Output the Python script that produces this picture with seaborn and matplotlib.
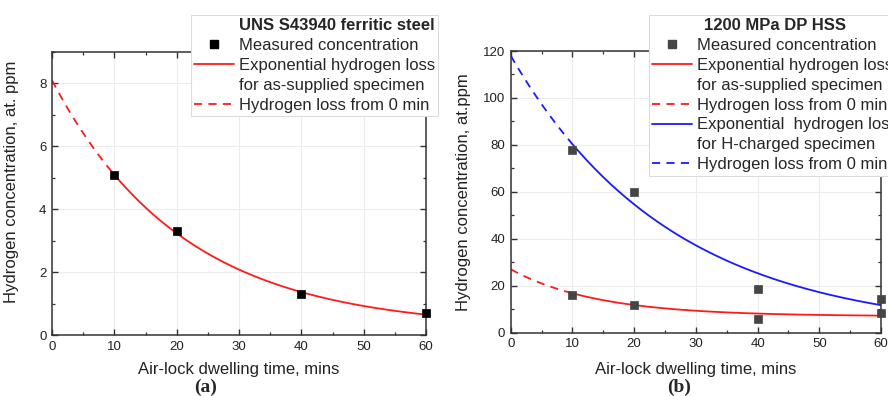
import numpy as np
import matplotlib
matplotlib.use("Agg")
import matplotlib.pyplot as plt
from matplotlib.lines import Line2D
from matplotlib.ticker import MultipleLocator
import seaborn as sns

# ---- (a) UNS S43940 ferritic steel ----
a_time = [10, 20, 40, 60]
a_conc = [5.1, 3.3, 1.3, 0.7]
# exponential loss fit: C(t) = c_inf + amp * exp(-t / tau)
a_fit = {"c_inf": 0.2, "amp": 7.9, "tau": 20.9}

# ---- (b) 1200 MPa DP HSS ----
b_time = [10, 20, 40, 60, 10, 20, 40, 60]
b_conc = [16.0, 12.0, 6.0, 8.5, 78.0, 60.0, 18.5, 14.3]
b_fit_supplied = {"c_inf": 7.0, "amp": 20.0, "tau": 14.0}
b_fit_charged = {"c_inf": 0.0, "amp": 118.0, "tau": 26.0}

x_ticks = [0, 10, 20, 30, 40, 50, 60]
a_yticks = [0, 2, 4, 6, 8]
b_yticks = [0, 20, 40, 60, 80, 100, 120]

t_first = 10  # first measurement; fit is extrapolated (dashed) before it
t_end = 60

sns.set_style("ticks")
plt.rcParams["font.family"] = ["Liberation Sans", "DejaVu Sans"]

fig = plt.figure(figsize=(8.88, 3.96), dpi=100)
ax_a = fig.add_axes([52 / 888, 1 - 335 / 396, 374 / 888, 283 / 396])
ax_b = fig.add_axes([510.7 / 888, 1 - 332.7 / 396, 370.3 / 888, 281.7 / 396])

LW = 1.3
DASH = (4.5, 3.5)


def fit_curve(p, t0, t1):
    t = np.linspace(t0, t1, 200)
    return t, p["c_inf"] + p["amp"] * np.exp(-t / p["tau"])


def draw_fit(ax, p, color):
    t, c = fit_curve(p, 0, t_first)
    sns.lineplot(x=t, y=c, ax=ax, color=color, lw=LW,
                 estimator=None, sort=False, linestyle=(0, DASH))
    t, c = fit_curve(p, t_first, t_end)
    sns.lineplot(x=t, y=c, ax=ax, color=color, lw=LW,
                 estimator=None, sort=False)


def style_axes(ax, ymax, yminor, yticks):
    ax.set_xlim(0, 60)
    ax.set_ylim(0, ymax)
    ax.set_xticks(x_ticks)
    ax.set_yticks(yticks)
    ax.xaxis.set_minor_locator(MultipleLocator(5))
    ax.yaxis.set_minor_locator(MultipleLocator(yminor))
    ax.grid(True, which="major", color="#ececec", lw=0.8)
    ax.set_axisbelow(True)
    for s in ax.spines.values():
        s.set_visible(True)
        s.set_color("#333333")
        s.set_linewidth(1.1)
    ax.tick_params(which="both", direction="in", top=True, right=True,
                   colors="#333333", labelcolor="#222222")
    ax.tick_params(which="major", length=4, width=1.0, labelsize=9.5, pad=4)
    ax.tick_params(which="minor", length=2.5, width=0.9)
    ax.set_xlabel("Air-lock dwelling time, mins", fontsize=12, color="#222222")


# panel (a)
draw_fit(ax_a, a_fit, "#ff1a1a")
sns.scatterplot(x=a_time, y=a_conc, ax=ax_a, marker="s", s=30,
                color="black", edgecolor="black", linewidth=0.5,
                zorder=3, clip_on=False)
style_axes(ax_a, 9, 1, a_yticks)
ax_a.set_ylabel("Hydrogen concentration, at. ppm", fontsize=12, color="#222222")
ax_a.xaxis.set_label_coords(0.5, -0.095)
ax_a.yaxis.set_label_coords(-0.088, 0.54)

# panel (b)
draw_fit(ax_b, b_fit_supplied, "#ff1a1a")
draw_fit(ax_b, b_fit_charged, "#1a1aff")
sns.scatterplot(x=b_time, y=b_conc, ax=ax_b, marker="s", s=30,
                color="#454545", edgecolor="#454545", linewidth=0.5,
                zorder=3, clip_on=False)
style_axes(ax_b, 120, 10, b_yticks)
ax_b.set_ylabel("Hydrogen concentration, at.ppm", fontsize=12, color="#222222")
ax_b.xaxis.set_label_coords(0.5, -0.105)
ax_b.yaxis.set_label_coords(-0.107, 0.5)

# legends
blank = Line2D([], [], linestyle="none")
red_solid = Line2D([], [], color="#ff1a1a", lw=LW)
red_dash = Line2D([], [], color="#ff1a1a", lw=LW, linestyle=(0, DASH))
blue_solid = Line2D([], [], color="#1a1aff", lw=LW)
blue_dash = Line2D([], [], color="#1a1aff", lw=LW, linestyle=(0, DASH))
sq_black = Line2D([], [], linestyle="none", marker="s", ms=5.5,
                  color="black")
sq_gray = Line2D([], [], linestyle="none", marker="s", ms=5.5,
                 color="#454545")

leg_kw = dict(loc="upper left", bbox_transform=fig.transFigure,
              fontsize=12, frameon=True, fancybox=False, framealpha=1,
              edgecolor="#dddddd", borderaxespad=0, borderpad=0.2,
              labelspacing=0.29, handlelength=2.35, handletextpad=0.3)

leg_a = fig.legend(
    [blank, sq_black, red_solid, blank, red_dash],
    ["UNS S43940 ferritic steel", "Measured concentration",
     "Exponential hydrogen loss", "for as-supplied specimen",
     "Hydrogen loss from 0 min"],
    bbox_to_anchor=(191 / 888, 1 - 15 / 396), **leg_kw)
leg_a.get_texts()[0].set_fontweight("bold")
leg_a.get_frame().set_linewidth(0.8)

leg_b = fig.legend(
    [sq_gray, red_solid, blank, red_dash, blue_solid, blank, blue_dash],
    ["Measured concentration",
     "Exponential hydrogen loss", "for as-supplied specimen",
     "Hydrogen loss from 0 min",
     "Exponential  hydrogen loss", "for H-charged specimen",
     "Hydrogen loss from 0 min"],
    bbox_to_anchor=(649 / 888, 1 - 15 / 396),
    title="1200 MPa DP HSS",
    title_fontproperties={"weight": "bold", "size": 12}, **leg_kw)
leg_b.get_frame().set_linewidth(0.8)

# panel captions
cap_font = {"family": ["Liberation Serif", "DejaVu Serif"],
            "weight": "bold", "size": 14}
fig.text(206 / 888, 1 - 387 / 396, "(a)", ha="center", va="center",
         fontdict=cap_font)
fig.text(679 / 888, 1 - 387 / 396, "(b)", ha="center", va="center",
         fontdict=cap_font)

fig.savefig("out.png", dpi=100)
